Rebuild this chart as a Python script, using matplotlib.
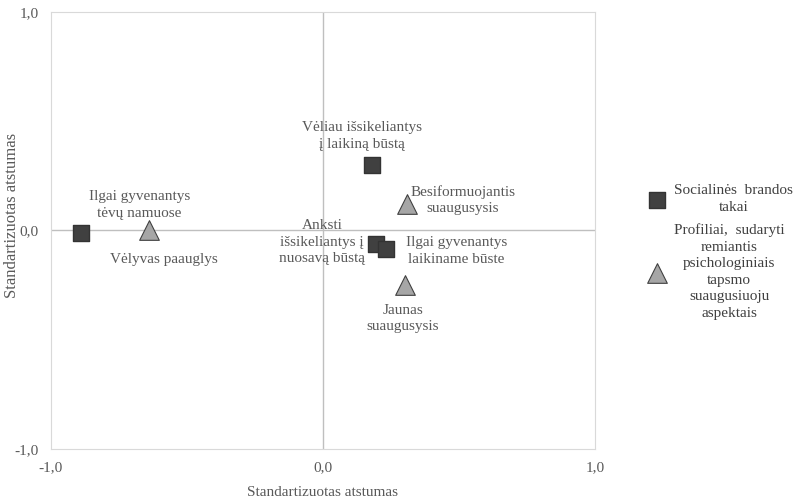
import matplotlib.pyplot as plt

plt.rcParams['font.family'] = ['Liberation Serif', 'DejaVu Serif']

# duomenys
takai_pav = ["Ilgai gyvenantys\ntėvų namuose", "Vėliau išsikeliantys\nį laikiną būstą",
             "Anksti\nišsikeliantys į\nnuosavą būstą", "Ilgai gyvenantys\nlaikiname būste"]
takai_x = [-0.89, 0.18, 0.195, 0.23]
takai_y = [-0.01, 0.30, -0.06, -0.087]

prof_pav = ["Vėlyvas paauglys", "Besiformuojantis\nsuaugusysis", "Jaunas\nsuaugusysis"]
prof_x = [-0.64, 0.31, 0.30]
prof_y = [0.0, 0.12, -0.25]

ticks = [-1.0, 0.0, 1.0]
tick_labels = ["-1,0", "0,0", "1,0"]

# etikečių poslinkiai (taškais)
takai_off = [(42, 20), (-7, 21), (-39, 1), (51, -1)]
prof_off = [(11, -21), (40, 3), (-1.5, -24)]

txt = '#595959'
fig = plt.figure(figsize=(7.93, 4.99), dpi=100)
ax = fig.add_axes([0.0643, 0.1002, 0.6860, 0.8758])

ax.axhline(0, color='#bfbfbf', lw=1, zorder=1)
ax.axvline(0, color='#bfbfbf', lw=1, zorder=1)

ax.scatter(takai_x, takai_y, marker='s', s=130, color='#404040', edgecolor='#333333',
           zorder=3, label="Socialinės  brandos\ntakai")
ax.scatter(prof_x, prof_y, marker='^', s=200, color='#a6a6a6', edgecolor='#404040',
           lw=0.8, zorder=3,
           label="Profiliai,  sudaryti\nremiantis\npsichologiniais\ntapsmo\nsuaugusiuoju\naspektais")

for lab, x, y, off in zip(takai_pav, takai_x, takai_y, takai_off):
    ax.annotate(lab, (x, y), xytext=off, textcoords='offset points', ha='center', va='center',
                fontsize=11, color=txt, multialignment='center', linespacing=1.35)
for lab, x, y, off in zip(prof_pav, prof_x, prof_y, prof_off):
    ax.annotate(lab, (x, y), xytext=off, textcoords='offset points', ha='center', va='center',
                fontsize=11, color=txt, multialignment='center', linespacing=1.35)

ax.set_xlim(-1, 1)
ax.set_ylim(-1, 1)
ax.set_xticks(ticks)
ax.set_xticklabels(tick_labels)
ax.set_yticks(ticks)
ax.set_yticklabels(tick_labels)
ax.tick_params(length=0, labelsize=11, colors=txt)
ax.tick_params(axis='x', pad=9)
ax.tick_params(axis='y', pad=9)
for sp in ax.spines.values():
    sp.set_color('#d9d9d9')
ax.set_xlabel("Standartizuotas atstumas", fontsize=11, color=txt, labelpad=8)
ax.set_ylabel("Standartizuotas atstumas", fontsize=12, color=txt, va='center')
ax.yaxis.set_label_coords(-0.071, 0.535)

leg = fig.legend(loc='center left', bbox_to_anchor=(0.819, 0.495), frameon=False,
                 fontsize=11, labelspacing=0.65, handlelength=1.0, handletextpad=0.6,
                 borderpad=0, borderaxespad=0, scatterpoints=1, labelcolor='#404040')
for t in leg.get_texts():
    t.set_multialignment('center')
    t.set_linespacing(1.35)
for col in leg._legend_handle_box.get_children():
    for item in col.get_children():
        item.align = 'center'

fig.savefig("out.png", dpi=100)
